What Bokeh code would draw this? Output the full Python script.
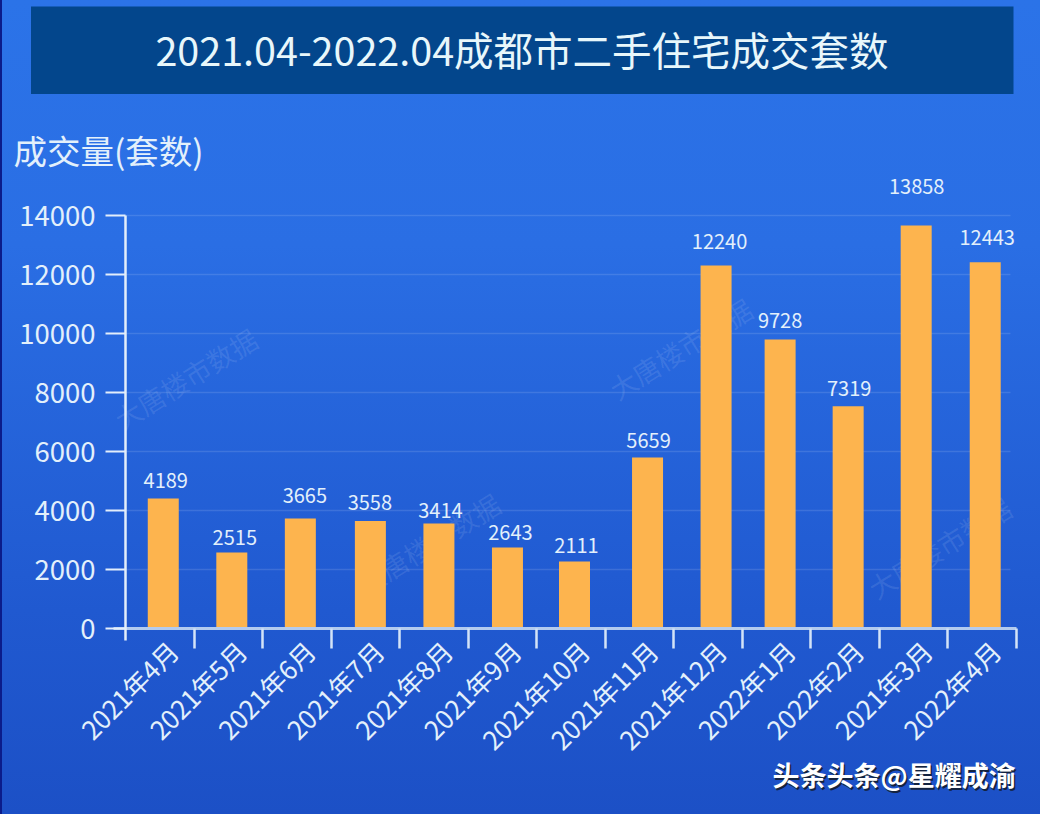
from bokeh.embed import file_html
from bokeh.resources import INLINE
from bokeh.plotting import figure
from bokeh.models import (Range1d, LinearAxis, FixedTicker, LabelSet,
                          Label, BoxAnnotation, ColumnDataSource, GlobalInlineStyleSheet)
from math import pi, radians

title_text = "2021.04-2022.04成都市二手住宅成交套数"
y_title = "成交量(套数)"
categories = ["2021年4月", "2021年5月", "2021年6月", "2021年7月", "2021年8月", "2021年9月", "2021年10月",
              "2021年11月", "2021年12月", "2022年1月", "2022年2月", "2021年3月", "2022年4月"]
bar_heights = [4407, 2576, 3729, 3644, 3559, 2746, 2271, 5797, 12305, 9797, 7536, 13661, 12417]
value_labels = ["4189", "2515", "3665", "3558", "3414", "2643", "2111", "5659", "12240", "9728", "7319", "13858", "12443"]
y_ticks = [0, 2000, 4000, 6000, 8000, 10000, 12000, 14000]
watermark = "大唐楼市数据"
credit = "头条头条@星耀成渝"

# styling offsets, in pixels
bar_shift = [3.5, 3.5, 3.5, 5, 5, 5, 3.5, 8, 8, 3.5, 3, 2.5, 3]
label_dx = [2.5, 3, 4.5, -0.5, 1.5, 3, 2, 1, 3.5, 0, 1, 0.5, 2]
label_gap = [18, 15, 23, 18.5, 13, 15, 16, 17, 24, 19, 17.7, 39, 24.7]
FONT = "Noto Sans CJK SC"
TXT = "#e3f0fb"
W, H = 1040, 814
PLOT_L, PLOT_T, PLOT_B = 125, 215, 628
BAND = 891 / 13
PX_PER_Y = (PLOT_B - PLOT_T) / 14000

css = ("html{height:100%;min-height:814px;background:"
       "linear-gradient(90deg,#0b1c8a 0,#0b1c8a 2px,transparent 2px),"
       "linear-gradient(180deg,#2b73e8 0,#2a6ee4 30%,#2059d0 75%,#1c50c6 100%);}"
       "body{background:transparent;}")

# the plotting frame fills the canvas so that nothing outside the axes is clipped
p = figure(width=W, height=H, output_backend="svg", toolbar_location=None,
           x_range=Range1d(-PLOT_L / BAND, (W - PLOT_L) / BAND),
           y_range=Range1d(-(H - PLOT_B) / PX_PER_Y, PLOT_B / PX_PER_Y),
           x_axis_type=None, y_axis_type=None,
           min_border_left=0, min_border_right=0, min_border_top=0, min_border_bottom=0,
           background_fill_color=None, border_fill_color=None, outline_line_color=None,
           stylesheets=[GlobalInlineStyleSheet(css=css)])
p.grid.visible = False


def lab(x, y, text, size, color=TXT, **kw):
    p.add_layout(Label(x=x, y=y, x_units="canvas", y_units="canvas", text=text,
                       text_font=FONT, text_font_size=f"{size}px", text_color=color, **kw))


# title band
p.add_layout(BoxAnnotation(left=30.5, right=1013, top=6, bottom=93.5,
                           left_units="canvas", right_units="canvas", top_units="canvas", bottom_units="canvas",
                           fill_color="#03468c", fill_alpha=1, line_color=None, level="underlay"))
lab(521.5, 48, title_text, 39.5, "#e8f7fb", text_align="center", text_baseline="middle")
lab(13, 149, y_title, 33.5, text_baseline="middle")

# watermarks
for cx, cy in [(185, 378), (680, 348), (428, 543), (939, 547)]:
    lab(cx, cy, watermark, 27, "#ffffff", text_align="center", text_baseline="middle",
        angle=radians(32), text_alpha=0.10, level="underlay")

# grid
p.segment(x0=[0] * len(y_ticks), x1=[13 - 6 / BAND] * len(y_ticks), y0=y_ticks, y1=y_ticks,
          line_color="#ffffff", line_alpha=0.12, line_width=1.5, level="underlay")

# bars
xs = [i + 0.5 + s / BAND for i, s in enumerate(bar_shift)]
src = ColumnDataSource(dict(x=xs, top=bar_heights, text=value_labels, dx=label_dx, dy=label_gap))
p.vbar(x="x", top="top", bottom=0, width=31 / BAND, source=src,
       fill_color="#fdb44e", line_color=None)
p.add_layout(LabelSet(x="x", y="top", text="text", source=src, x_offset="dx", y_offset="dy",
                      text_font={"value": FONT}, text_font_size="20px", text_color=TXT,
                      text_align="center", text_baseline="middle"))

# axes
yax = LinearAxis(fixed_location=0, bounds=(-12 / PX_PER_Y, 14000), ticker=FixedTicker(ticks=y_ticks),
                 axis_line_color="#e3eefb", axis_line_width=2.5,
                 major_tick_line_color="#e3eefb", major_tick_line_width=2, major_tick_out=20, major_tick_in=0,
                 minor_tick_line_color=None, major_label_standoff=10,
                 major_label_text_font=FONT, major_label_text_font_size="27.5px", major_label_text_color=TXT)
p.add_layout(yax, "left")

anchors = [i + 0.69 for i in range(len(categories))]
cax = LinearAxis(fixed_location=0, ticker=FixedTicker(ticks=anchors),
                 major_label_overrides=dict(zip(anchors, categories)),
                 axis_line_color=None, major_tick_line_color=None, minor_tick_line_color=None,
                 major_label_orientation=pi / 4, major_label_standoff=11,
                 major_label_text_font=FONT, major_label_text_font_size="26px", major_label_text_color=TXT)
p.add_layout(cax, "below")

edges = list(range(1, 14))
tax = LinearAxis(fixed_location=0, bounds=(-12 / BAND, 13), ticker=FixedTicker(ticks=edges),
                 major_label_overrides={e: "" for e in edges},
                 axis_line_color="#b3cbef", axis_line_width=3,
                 major_tick_line_color="#d4e3f8", major_tick_line_width=2.5, major_tick_out=20, major_tick_in=0,
                 minor_tick_line_color=None)
p.add_layout(tax, "below")

# credit
lab(773.5, 776, credit, 27, "#14233f", text_font_style="bold", text_baseline="middle")
lab(772, 774, credit, 27, "#ffffff", text_font_style="bold", text_baseline="middle")

open("out.html", "w").write(file_html(p, INLINE))
